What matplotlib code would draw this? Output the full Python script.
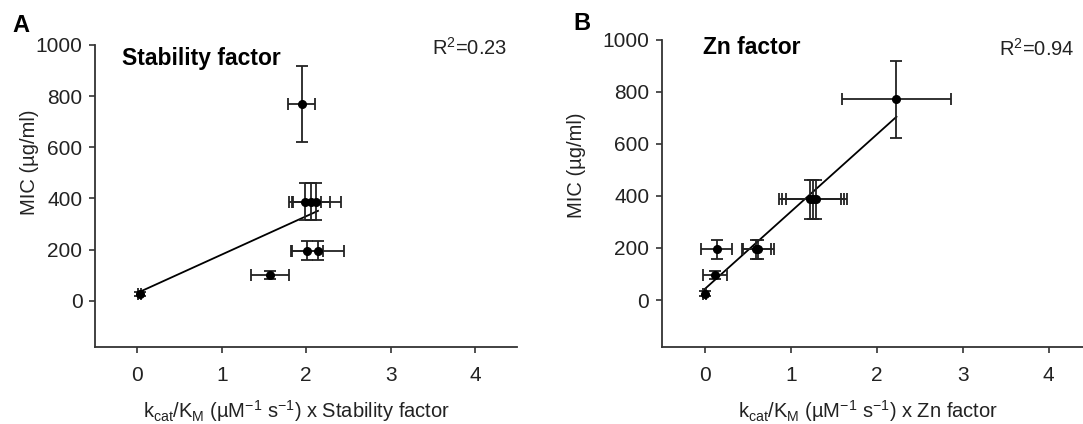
import numpy as np
import matplotlib
matplotlib.use('Agg')
import matplotlib.pyplot as plt

plt.rcParams['font.family'] = ['Liberation Sans', 'DejaVu Sans']
plt.rcParams['mathtext.default'] = 'regular'
plt.rcParams['axes.unicode_minus'] = False

# panel A : MIC vs kcat/KM x stability factor
stab_x    = [0.03, 1.575, 1.99, 2.06, 2.12, 2.01, 2.14, 1.945]
stab_xerr = [0.02, 0.225, 0.19, 0.22, 0.29, 0.19, 0.31, 0.16]
stab_y    = [27, 100, 388, 388, 388, 195, 195, 770]
stab_yerr = [8, 15, 73, 73, 73, 37, 37, 148]
stab_fit  = (150.0, 30.5)    # slope, intercept of drawn regression line
stab_r2   = 'R$^2$=0.23'

# panel B : MIC vs kcat/KM x Zn factor
zn_x    = [0.0, 0.116, 0.14, 0.60, 0.62, 1.22, 1.26, 1.30, 2.23]
zn_xerr = [0.02, 0.14, 0.18, 0.17, 0.18, 0.36, 0.36, 0.36, 0.63]
zn_y    = [25, 96, 195, 195, 195, 388, 388, 388, 772]
zn_yerr = [8, 15, 37, 37, 37, 75, 75, 75, 148]
zn_fit  = (297.0, 42.0)
zn_r2   = 'R$^2$=0.94'

yticks = [0, 200, 400, 600, 800, 1000]
xticks = [0, 1, 2, 3, 4]

fig = plt.figure(figsize=(10.83, 4.24), dpi=100)
axA = fig.add_axes([0.0877, 0.182, 0.390, 0.712])
axB = fig.add_axes([0.611, 0.182, 0.397, 0.724])

panels = [
  (axA, stab_x, stab_xerr, stab_y, stab_yerr, stab_fit, stab_r2, 'Stability factor',
   r'k$_{cat}$/K$_{M}$ (µM$^{-1}$ s$^{-1}$) x Stability factor', (0.064, 0.955), (0.975, 0.99)),
  (axB, zn_x, zn_xerr, zn_y, zn_yerr, zn_fit, zn_r2, 'Zn factor',
   r'k$_{cat}$/K$_{M}$ (µM$^{-1}$ s$^{-1}$) x Zn factor', (0.095, 0.975), (0.959, 0.971)),
]

for (ax, x, xe, y, ye, fit, r2, title, xlabel, tpos, rpos) in panels:
  ax.errorbar(x, y, xerr=xe, yerr=ye, fmt='o', color='black', ecolor='#222222',
              markersize=5.5, elinewidth=1.3, capsize=4.5, capthick=1.3, zorder=3)
  xs = np.array([min(x), max(x)])
  ax.plot(xs, fit[0] * xs + fit[1], color='black', lw=1.3, zorder=2)

  ax.set_xlim(-0.5, 4.5)
  ax.set_ylim(-180, 1000)
  ax.set_xticks(xticks)
  ax.set_yticks(yticks)
  for s in ['top', 'right']:
    ax.spines[s].set_visible(False)
  for s in ['left', 'bottom']:
    ax.spines[s].set_color('#333333')
    ax.spines[s].set_linewidth(1.3)
  ax.tick_params(direction='out', length=4, width=1.2, color='#333333',
                 labelsize=15, labelcolor='#222222')
  ax.tick_params(axis='x', pad=10)
  ax.tick_params(axis='y', pad=5)
  ax.set_ylabel('MIC (µg/ml)', fontsize=14.5, color='#222222')
  ax.set_xlabel(xlabel, fontsize=14.5, color='#222222')

  ax.text(tpos[0], tpos[1], title, transform=ax.transAxes, fontsize=16.5,
          fontweight='bold', va='center', ha='left')
  ax.text(rpos[0], rpos[1], r2, transform=ax.transAxes, fontsize=14.5,
          va='center', ha='right', color='#222222')

axA.yaxis.set_label_coords(-0.132, 0.61)
axA.xaxis.set_label_coords(0.476, -0.17)
axB.yaxis.set_label_coords(-0.177, 0.59)
axB.xaxis.set_label_coords(0.48, -0.167)

fig.text(0.011, 0.94, 'A', fontsize=17, fontweight='bold', va='center', ha='left')
fig.text(0.529, 0.945, 'B', fontsize=17, fontweight='bold', va='center', ha='left')

fig.savefig('out.png', dpi=100)
